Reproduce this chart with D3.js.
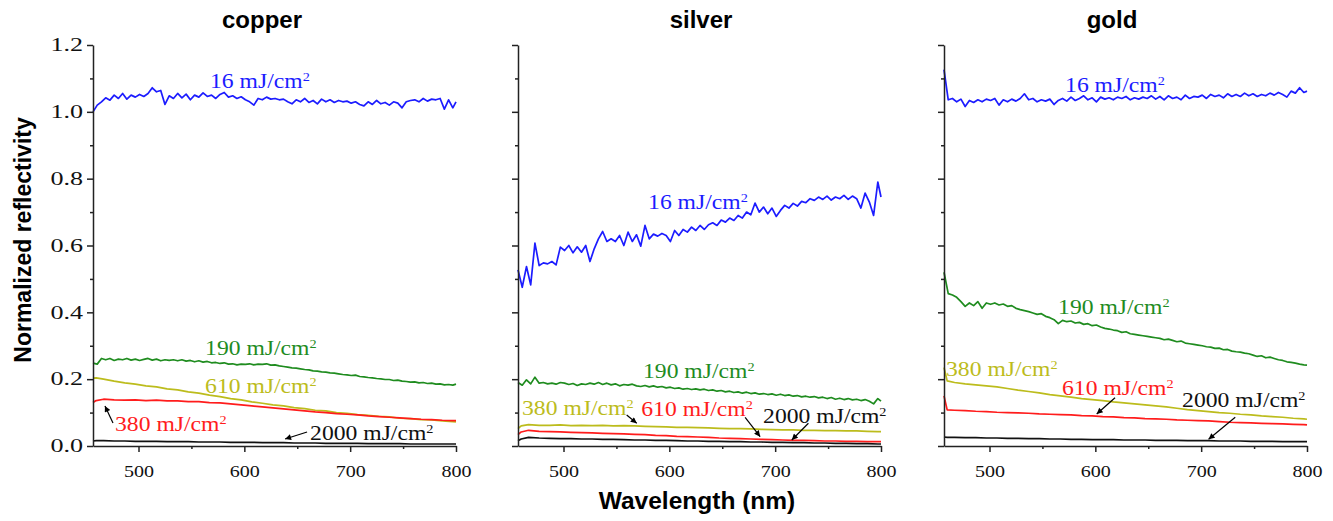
<!DOCTYPE html>
<html>
<head>
<meta charset="utf-8">
<script src="https://cdn.jsdelivr.net/npm/d3@7"></script>
<style>
  html, body { margin: 0; padding: 0; background: #fff; }
  svg { display: block; }
</style>
</head>
<body>
<svg id="chart" width="1333" height="521"></svg>
<script>
(function () {
  "use strict";

  // wavelength grids (nm)
  const wlFine = [
    457, 461, 465, 469, 473, 477, 481, 485, 489, 493,
    497, 501, 505, 509, 513, 517, 521, 525, 529, 533,
    537, 541, 545, 549, 553, 557, 561, 565, 569, 573,
    577, 581, 585, 589, 593, 597, 601, 605, 609, 613,
    617, 621, 625, 629, 633, 637, 641, 645, 649, 653,
    657, 661, 665, 669, 673, 677, 681, 685, 689, 693,
    697, 701, 705, 709, 713, 717, 721, 725, 729, 733,
    737, 741, 745, 749, 753, 757, 761, 765, 769, 773,
    777, 781, 785, 789, 793, 797, 800
  ];
  const wlCoarse = [
    457, 460, 467, 477, 487, 497, 507, 517, 527, 537,
    547, 557, 567, 577, 587, 597, 607, 617, 627, 637,
    647, 657, 667, 677, 687, 697, 707, 717, 727, 737,
    747, 757, 767, 777, 787, 797, 800
  ];

  // ---- copper ----
  const copper16 = [
    1.000, 1.020, 1.030, 1.042, 1.035, 1.050, 1.040, 1.055, 1.038, 1.050,
    1.044, 1.052, 1.046, 1.055, 1.072, 1.060, 1.064, 1.022, 1.048, 1.040,
    1.055, 1.042, 1.053, 1.036, 1.050, 1.044, 1.057, 1.046, 1.050, 1.040,
    1.052, 1.058, 1.044, 1.048, 1.040, 1.045, 1.036, 1.030, 1.020, 1.040,
    1.036, 1.044, 1.038, 1.040, 1.036, 1.038, 1.030, 1.024, 1.036, 1.030,
    1.040, 1.028, 1.034, 1.024, 1.038, 1.030, 1.036, 1.028, 1.034, 1.030,
    1.032, 1.026, 1.030, 1.022, 1.018, 1.030, 1.022, 1.034, 1.024, 1.028,
    1.020, 1.030, 1.026, 1.012, 1.030, 1.034, 1.036, 1.030, 1.040, 1.032,
    1.038, 1.036, 1.040, 1.008, 1.036, 1.012, 1.030
  ];
  const copper190 = [
    0.248, 0.245, 0.262, 0.258, 0.262, 0.256, 0.260, 0.258, 0.262, 0.257,
    0.260, 0.256, 0.259, 0.262, 0.257, 0.260, 0.255, 0.258, 0.256, 0.258,
    0.255, 0.258, 0.254, 0.256, 0.252, 0.255, 0.251, 0.253, 0.249, 0.250,
    0.247, 0.249, 0.245, 0.246, 0.243, 0.245, 0.244, 0.246, 0.243, 0.245,
    0.244, 0.246, 0.242, 0.243, 0.240, 0.238, 0.236, 0.234, 0.233, 0.231,
    0.229, 0.228, 0.225, 0.224, 0.222, 0.221, 0.219, 0.218, 0.216, 0.214,
    0.213, 0.211, 0.212, 0.208, 0.207, 0.205, 0.204, 0.202, 0.201, 0.199,
    0.199, 0.196, 0.197, 0.194, 0.193, 0.191, 0.192, 0.189, 0.190, 0.187,
    0.188, 0.185, 0.186, 0.183, 0.184, 0.182, 0.185
  ];
  const copper610 = [
    0.203, 0.204, 0.200, 0.194, 0.189, 0.185, 0.180, 0.177, 0.171, 0.168,
    0.162, 0.158, 0.152, 0.148, 0.142, 0.138, 0.132, 0.128, 0.123, 0.120,
    0.115, 0.112, 0.107, 0.105, 0.100, 0.098, 0.094, 0.092, 0.089, 0.087,
    0.083, 0.082, 0.079, 0.078, 0.075, 0.073, 0.072
  ];
  const copper380 = [
    0.130, 0.136, 0.140, 0.138, 0.137, 0.138, 0.136, 0.137, 0.135, 0.135,
    0.133, 0.133, 0.130, 0.129, 0.126, 0.123, 0.120, 0.117, 0.114, 0.111,
    0.108, 0.105, 0.102, 0.100, 0.097, 0.095, 0.093, 0.090, 0.088, 0.086,
    0.084, 0.082, 0.080, 0.079, 0.077, 0.076, 0.076
  ];
  const copper2000 = [
    0.015, 0.016, 0.016, 0.015, 0.015, 0.014, 0.014, 0.014, 0.013, 0.013,
    0.013, 0.012, 0.012, 0.012, 0.011, 0.011, 0.011, 0.010, 0.010, 0.010,
    0.009, 0.009, 0.009, 0.008, 0.008, 0.008, 0.008, 0.007, 0.007, 0.007,
    0.007, 0.006, 0.006, 0.006, 0.006, 0.006, 0.006
  ];

  // ---- silver ----
  const silver16 = [
    0.527, 0.475, 0.537, 0.482, 0.607, 0.540, 0.548, 0.545, 0.552, 0.542,
    0.595, 0.585, 0.600, 0.578, 0.596, 0.580, 0.600, 0.552, 0.590, 0.620,
    0.642, 0.612, 0.620, 0.612, 0.630, 0.600, 0.640, 0.612, 0.632, 0.598,
    0.660, 0.620, 0.634, 0.628, 0.636, 0.630, 0.612, 0.645, 0.630, 0.648,
    0.640, 0.655, 0.645, 0.660, 0.648, 0.662, 0.668, 0.660, 0.676, 0.670,
    0.682, 0.675, 0.690, 0.682, 0.700, 0.692, 0.727, 0.700, 0.715, 0.695,
    0.712, 0.687, 0.705, 0.720, 0.712, 0.726, 0.718, 0.732, 0.728, 0.740,
    0.735, 0.745, 0.738, 0.748, 0.736, 0.745, 0.740, 0.750, 0.738, 0.748,
    0.740, 0.712, 0.757, 0.730, 0.690, 0.790, 0.745
  ];
  const silver190 = [
    0.190, 0.182, 0.198, 0.186, 0.206, 0.188, 0.190, 0.186, 0.188, 0.185,
    0.190, 0.188, 0.184, 0.187, 0.181, 0.186, 0.184, 0.188, 0.185, 0.190,
    0.184, 0.188, 0.183, 0.186, 0.180, 0.184, 0.182, 0.185, 0.180, 0.178,
    0.181, 0.177, 0.180, 0.176, 0.178, 0.174, 0.176, 0.172, 0.174, 0.170,
    0.172, 0.169, 0.171, 0.168, 0.170, 0.166, 0.168, 0.164, 0.166, 0.162,
    0.164, 0.160, 0.162, 0.158, 0.161, 0.157, 0.159, 0.155, 0.157, 0.154,
    0.156, 0.152, 0.155, 0.151, 0.153, 0.149, 0.151, 0.147, 0.149, 0.146,
    0.148, 0.144, 0.146, 0.142, 0.145, 0.140, 0.143, 0.139, 0.142, 0.138,
    0.140, 0.136, 0.139, 0.134, 0.126, 0.142, 0.134
  ];
  const silver380 = [
    0.052, 0.060, 0.064, 0.062, 0.062, 0.063, 0.061, 0.062, 0.061, 0.062,
    0.060, 0.061, 0.060, 0.059, 0.058, 0.057, 0.056, 0.056, 0.055, 0.054,
    0.053, 0.052, 0.052, 0.051, 0.050, 0.049, 0.048, 0.048, 0.047, 0.047,
    0.046, 0.046, 0.045, 0.045, 0.044, 0.043, 0.043
  ];
  const silver610 = [
    0.034, 0.042, 0.047, 0.044, 0.043, 0.042, 0.041, 0.040, 0.039, 0.038,
    0.037, 0.036, 0.035, 0.034, 0.032, 0.031, 0.029, 0.028, 0.027, 0.026,
    0.024, 0.023, 0.022, 0.021, 0.020, 0.019, 0.018, 0.017, 0.017, 0.016,
    0.015, 0.015, 0.014, 0.014, 0.013, 0.013, 0.013
  ];
  const silver2000 = [
    0.016, 0.021, 0.026, 0.024, 0.023, 0.022, 0.022, 0.021, 0.021, 0.020,
    0.020, 0.019, 0.018, 0.018, 0.017, 0.017, 0.016, 0.015, 0.015, 0.014,
    0.014, 0.013, 0.013, 0.012, 0.012, 0.011, 0.011, 0.010, 0.010, 0.009,
    0.009, 0.008, 0.008, 0.007, 0.007, 0.006, 0.006
  ];

  // ---- gold ----
  const gold16 = [
    1.126, 1.036, 1.040, 1.030, 1.038, 1.016, 1.034, 1.028, 1.036, 1.030,
    1.038, 1.034, 1.040, 1.020, 1.036, 1.030, 1.038, 1.032, 1.040, 1.054,
    1.036, 1.040, 1.030, 1.036, 1.032, 1.038, 1.022, 1.034, 1.040, 1.032,
    1.044, 1.034, 1.040, 1.048, 1.036, 1.042, 1.030, 1.044, 1.038, 1.042,
    1.036, 1.044, 1.040, 1.046, 1.036, 1.042, 1.038, 1.044, 1.040, 1.048,
    1.038, 1.046, 1.036, 1.048, 1.040, 1.044, 1.036, 1.050, 1.040, 1.046,
    1.044, 1.050, 1.040, 1.052, 1.046, 1.050, 1.042, 1.054, 1.046, 1.052,
    1.046, 1.056, 1.048, 1.054, 1.046, 1.052, 1.048, 1.056, 1.050, 1.058,
    1.052, 1.044, 1.062, 1.056, 1.072, 1.058, 1.062
  ];
  const gold190 = [
    0.520, 0.456, 0.452, 0.445, 0.432, 0.418, 0.428, 0.420, 0.432, 0.412,
    0.428, 0.424, 0.428, 0.422, 0.425, 0.418, 0.420, 0.412, 0.408, 0.405,
    0.402, 0.398, 0.394, 0.396, 0.388, 0.384, 0.378, 0.366, 0.376, 0.372,
    0.374, 0.368, 0.370, 0.364, 0.366, 0.360, 0.362, 0.356, 0.352, 0.350,
    0.347, 0.345, 0.340, 0.342, 0.336, 0.334, 0.332, 0.330, 0.328, 0.326,
    0.324, 0.322, 0.318, 0.320, 0.316, 0.312, 0.314, 0.308, 0.306, 0.304,
    0.302, 0.300, 0.297, 0.296, 0.292, 0.293, 0.288, 0.289, 0.284, 0.282,
    0.281, 0.278, 0.276, 0.272, 0.268, 0.270, 0.264, 0.266, 0.262, 0.258,
    0.256, 0.252, 0.250, 0.248, 0.245, 0.243, 0.242
  ];
  const gold380 = [
    0.235, 0.195, 0.190, 0.186, 0.183, 0.180, 0.177, 0.172, 0.167, 0.163,
    0.159, 0.154, 0.150, 0.146, 0.142, 0.139, 0.136, 0.132, 0.129, 0.126,
    0.123, 0.120, 0.117, 0.113, 0.109, 0.106, 0.103, 0.100, 0.098, 0.095,
    0.093, 0.090, 0.088, 0.086, 0.083, 0.081, 0.080
  ];
  const gold610 = [
    0.150, 0.108, 0.107, 0.106, 0.104, 0.103, 0.101, 0.100, 0.099, 0.098,
    0.096, 0.095, 0.094, 0.093, 0.091, 0.090, 0.088, 0.087, 0.085, 0.084,
    0.082, 0.081, 0.080, 0.078, 0.077, 0.076, 0.075, 0.073, 0.071, 0.070,
    0.069, 0.068, 0.067, 0.066, 0.065, 0.064, 0.063
  ];
  const gold2000 = [
    0.027, 0.026, 0.026, 0.025, 0.025, 0.024, 0.024, 0.023, 0.023, 0.022,
    0.022, 0.021, 0.021, 0.020, 0.020, 0.019, 0.019, 0.019, 0.018, 0.018,
    0.018, 0.017, 0.017, 0.017, 0.016, 0.016, 0.016, 0.015, 0.015, 0.015,
    0.014, 0.014, 0.014, 0.013, 0.013, 0.013, 0.013
  ];

  const panelTitles = ["copper", "silver", "gold"];
  const yMajor = [0, 0.2, 0.4, 0.6, 0.8, 1.0, 1.2];
  const yMinor = [0.1, 0.3, 0.5, 0.7, 0.9, 1.1];
  const xMajor = [500, 600, 700, 800];
  const xMinor = [550, 650, 750];

  const BLUE = "#1c1cff", GREEN = "#1f8c1f", YELLOW = "#bcbc1c", RED = "#ff1c1c", BLACK = "#111";

  const series = [
    { panel: 0, wl: wlFine, r: copper16, color: BLUE },
    { panel: 0, wl: wlFine, r: copper190, color: GREEN },
    { panel: 0, wl: wlCoarse, r: copper610, color: YELLOW },
    { panel: 0, wl: wlCoarse, r: copper380, color: RED },
    { panel: 0, wl: wlCoarse, r: copper2000, color: BLACK },
    { panel: 1, wl: wlFine, r: silver16, color: BLUE },
    { panel: 1, wl: wlFine, r: silver190, color: GREEN },
    { panel: 1, wl: wlCoarse, r: silver380, color: YELLOW },
    { panel: 1, wl: wlCoarse, r: silver610, color: RED },
    { panel: 1, wl: wlCoarse, r: silver2000, color: BLACK },
    { panel: 2, wl: wlFine, r: gold16, color: BLUE },
    { panel: 2, wl: wlFine, r: gold190, color: GREEN },
    { panel: 2, wl: wlCoarse, r: gold380, color: YELLOW },
    { panel: 2, wl: wlCoarse, r: gold610, color: RED },
    { panel: 2, wl: wlCoarse, r: gold2000, color: BLACK },
  ];

  // annotation anchors in data units (wavelength, reflectivity)
  const notes = [
    { panel: 0, label: "16", at: [567.6, 1.071], color: BLUE },
    { panel: 0, label: "190", at: [562.9, 0.272], color: GREEN },
    { panel: 0, label: "610", at: [562.9, 0.159], color: YELLOW },
    { panel: 0, label: "380", at: [477.8, 0.045], color: RED },
    { panel: 0, label: "2000", at: [662.1, 0.018], color: BLACK },
    { panel: 1, label: "16", at: [579.9, 0.709], color: BLUE },
    { panel: 1, label: "190", at: [575.1, 0.2035], color: GREEN },
    { panel: 1, label: "380", at: [460.8, 0.093], color: YELLOW },
    { panel: 1, label: "610", at: [573.5, 0.090], color: RED },
    { panel: 1, label: "2000", at: [688.6, 0.069], color: BLACK },
    { panel: 2, label: "16", at: [571.4, 1.059], color: BLUE },
    { panel: 2, label: "190", at: [564.8, 0.395], color: GREEN },
    { panel: 2, label: "380", at: [458.9, 0.2095], color: YELLOW },
    { panel: 2, label: "610", at: [568.5, 0.1526], color: RED },
    { panel: 2, label: "2000", at: [682.0, 0.1167], color: BLACK },
  ];
  const arrows = [
    { panel: 0, from: [475.9, 0.069], to: [468.3, 0.120] },
    { panel: 0, from: [659.3, 0.042], to: [638.5, 0.021] },
    { panel: 1, from: [559.7, 0.093], to: [569.2, 0.068] },
    { panel: 1, from: [671.6, 0.086], to: [685.8, 0.028] },
    { panel: 1, from: [731.4, 0.068], to: [715.7, 0.018] },
    { panel: 2, from: [618.6, 0.1446], to: [601.3, 0.0958] },
    { panel: 2, from: [732.2, 0.0858], to: [707.0, 0.020] },
  ];

  // layout
  const panelLeft = [93, 518, 944];
  const panelWidth = 363;
  const plotTop = 45, plotBottom = 446;
  const titleX = [262, 701, 1112];
  const SERIF = "'Liberation Serif', 'Times New Roman', serif";
  const SANS = "'Liberation Sans', Arial, sans-serif";

  const svg = d3.select("#chart");
  svg.append("rect").attr("width", 1333).attr("height", 521).attr("fill", "#fff");

  svg.append("defs").append("marker")
    .attr("id", "head")
    .attr("viewBox", "0 0 10 10")
    .attr("refX", 10).attr("refY", 5)
    .attr("markerWidth", 9).attr("markerHeight", 6)
    .attr("markerUnits", "userSpaceOnUse")
    .attr("orient", "auto")
    .append("path").attr("d", "M0,0 L10,5 L0,10 z").attr("fill", "#000");

  const y = d3.scaleLinear().domain([0, 1.2]).range([plotBottom, plotTop]);

  panelTitles.forEach((title, p) => {
    const x = d3.scaleLinear().domain([457, 800]).range([panelLeft[p], panelLeft[p] + panelWidth]);
    const g = svg.append("g").attr("class", "panel");

    const line = d3.line().x((d) => x(d[0])).y((d) => y(d[1]));
    g.selectAll("path.curve")
      .data(series.filter((s) => s.panel === p))
      .join("path")
      .attr("class", "curve")
      .attr("fill", "none")
      .attr("stroke", (s) => s.color)
      .attr("stroke-width", 1.7)
      .attr("stroke-linejoin", "round")
      .attr("d", (s) => line(s.wl.map((w, i) => [w, s.r[i]])));

    // axes
    const yAxisG = g.append("g").attr("transform", `translate(${panelLeft[p]},0)`);
    yAxisG.call(d3.axisLeft(y).tickValues(yMajor).tickSize(6).tickSizeOuter(0)
      .tickFormat(p === 0 ? d3.format(".1f") : () => ""));
    yAxisG.append("g").call(d3.axisLeft(y).tickValues(yMinor).tickSize(3).tickSizeOuter(0).tickFormat(() => ""))
      .select(".domain").remove();
    yAxisG.selectAll("text")
      .attr("x", 0)
      .attr("transform", "translate(-10,0) scale(1.45,1)")
      .style("font-family", SERIF).style("font-size", "18px").attr("fill", "#111");

    const xAxisG = g.append("g").attr("transform", `translate(0,${plotBottom})`);
    xAxisG.call(d3.axisBottom(x).tickValues(xMajor).tickSize(6).tickSizeOuter(0).tickFormat(d3.format("d")));
    xAxisG.append("g").call(d3.axisBottom(x).tickValues(xMinor).tickSize(3).tickSizeOuter(0).tickFormat(() => ""))
      .select(".domain").remove();
    xAxisG.selectAll("text")
      .attr("y", 0).attr("dy", 0)
      .attr("transform", "translate(0,31) scale(1.18,1)")
      .style("font-family", SERIF).style("font-size", "17px").attr("fill", "#111");

    g.selectAll(".domain, .tick line").attr("stroke", "#222").attr("stroke-width", 1.5);

    // title
    g.append("text")
      .attr("x", titleX[p]).attr("y", 28)
      .attr("text-anchor", "middle")
      .style("font-family", SANS).style("font-weight", "bold").style("font-size", "24px")
      .text(title);

    // fluence labels
    const lab = g.selectAll("text.note")
      .data(notes.filter((n) => n.panel === p))
      .join("text")
      .attr("class", "note")
      .attr("transform", (n) => `translate(${x(n.at[0])},${y(n.at[1])}) scale(1.1,1)`)
      .attr("fill", (n) => n.color)
      .style("font-family", SERIF).style("font-size", "21.5px");
    lab.append("tspan").text((n) => n.label + " mJ/cm");
    lab.append("tspan").attr("dy", -7).style("font-size", "13px").text("2");

    g.selectAll("line.arrow")
      .data(arrows.filter((a) => a.panel === p))
      .join("line")
      .attr("class", "arrow")
      .attr("x1", (a) => x(a.from[0])).attr("y1", (a) => y(a.from[1]))
      .attr("x2", (a) => x(a.to[0])).attr("y2", (a) => y(a.to[1]))
      .attr("stroke", "#000").attr("stroke-width", 1.2)
      .attr("marker-end", "url(#head)");
  });

  // axis titles
  svg.append("text")
    .attr("transform", "translate(31,240) rotate(-90)")
    .attr("text-anchor", "middle")
    .style("font-family", SANS).style("font-weight", "bold").style("font-size", "23px")
    .text("Normalized reflectivity");

  svg.append("text")
    .attr("x", 697).attr("y", 509)
    .attr("text-anchor", "middle")
    .style("font-family", SANS).style("font-weight", "bold").style("font-size", "24.5px")
    .text("Wavelength (nm)");
})();
</script>
</body>
</html>
